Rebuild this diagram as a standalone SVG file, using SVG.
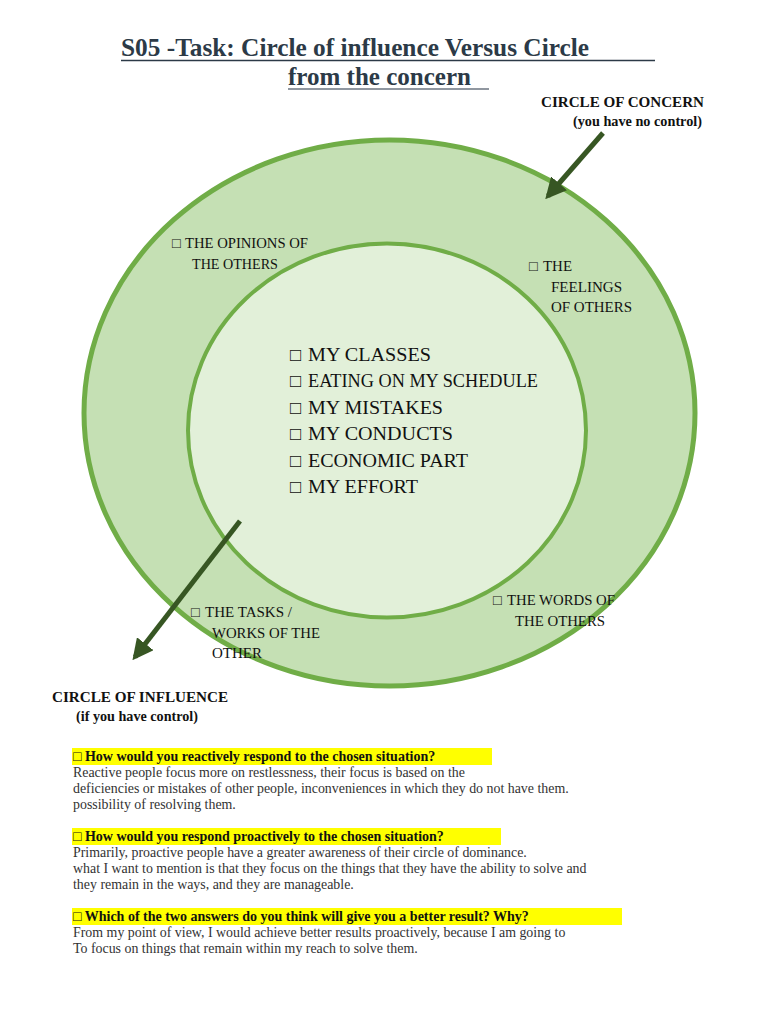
<svg xmlns="http://www.w3.org/2000/svg" width="768" height="1024" viewBox="0 0 768 1024">
<defs>
<style>
.t{font-family:"Liberation Serif","Times New Roman",serif;}
.title{font-size:25px;font-weight:bold;fill:#2c3a47;}
.lab{font-size:14.5px;fill:#111;}
.big{font-size:18.5px;fill:#111;}
.hd{font-size:14.5px;font-weight:bold;fill:#111;}
.q{font-size:14px;font-weight:bold;fill:#111;}
.b{font-size:13.9px;fill:#333;}
.hl{fill:#ffff00;}
.arr{stroke:#375623;stroke-width:5;fill:none;}
</style>
<marker id="ah" viewBox="0 0 10 10" refX="8" refY="5" markerWidth="4.2" markerHeight="4.2" orient="auto" markerUnits="strokeWidth">
<path d="M0,0 L10,5 L0,10 z" fill="#375623"/>
</marker>
</defs>
<rect width="768" height="1024" fill="#ffffff"/>
<g id="title" class="t">
<text class="title" x="121" y="56" textLength="468" lengthAdjust="spacingAndGlyphs">S05 -Task: Circle of influence Versus Circle</text>
<line x1="121" y1="60.5" x2="655" y2="60.5" stroke="#2c3a47" stroke-width="1.5"/>
<text class="title" x="288" y="85" textLength="183" lengthAdjust="spacingAndGlyphs">from the concern</text>
<line x1="288" y1="89" x2="489" y2="89" stroke="#6b7480" stroke-width="1.5"/>
</g>
<g id="outer-circle">
<ellipse cx="389.5" cy="413" rx="305.5" ry="273" fill="#c5e0b4" stroke="#70ad47" stroke-width="5"/>
</g>
<g id="inner-circle">
<ellipse cx="387" cy="430.5" rx="199" ry="187" fill="#e2f0d9" stroke="#70ad47" stroke-width="4"/>
</g>
<g id="connectors">
<line class="arr" x1="603" y1="133" x2="548" y2="196" marker-end="url(#ah)"/>
<line class="arr" x1="240" y1="521" x2="135" y2="657" marker-end="url(#ah)"/>
</g>
<g id="circle-of-concern" class="t">
<text class="hd" x="541" y="107" textLength="163" lengthAdjust="spacingAndGlyphs">CIRCLE OF CONCERN</text>
<text class="hd" x="573" y="126" textLength="129" lengthAdjust="spacingAndGlyphs">(you have no control)</text>
</g>
<g id="circle-of-influence" class="t">
<text class="hd" x="52" y="702" textLength="176" lengthAdjust="spacingAndGlyphs">CIRCLE OF INFLUENCE</text>
<text class="hd" x="76" y="721" textLength="122" lengthAdjust="spacingAndGlyphs">(if you have control)</text>
</g>
<g id="opinions" class="t lab">
<text x="172" y="248">□</text>
<text x="185" y="248" textLength="123" lengthAdjust="spacingAndGlyphs">THE OPINIONS OF</text>
<text x="192" y="269" textLength="86" lengthAdjust="spacingAndGlyphs">THE OTHERS</text>
</g>
<g id="feelings" class="t lab">
<text x="529" y="271">□</text>
<text x="543" y="271" textLength="29" lengthAdjust="spacingAndGlyphs">THE</text>
<text x="551" y="292" textLength="71" lengthAdjust="spacingAndGlyphs">FEELINGS</text>
<text x="551" y="312" textLength="81" lengthAdjust="spacingAndGlyphs">OF OTHERS</text>
</g>
<g id="tasks" class="t lab">
<text x="191" y="617">□</text>
<text x="205" y="617" textLength="87" lengthAdjust="spacingAndGlyphs">THE TASKS /</text>
<text x="212" y="638" textLength="108" lengthAdjust="spacingAndGlyphs">WORKS OF THE</text>
<text x="212" y="658" textLength="50" lengthAdjust="spacingAndGlyphs">OTHER</text>
</g>
<g id="words" class="t lab">
<text x="493" y="605">□</text>
<text x="507" y="605" textLength="108" lengthAdjust="spacingAndGlyphs">THE WORDS OF</text>
<text x="515" y="626" textLength="90" lengthAdjust="spacingAndGlyphs">THE OTHERS</text>
</g>
<g id="influence-list" class="t big">
<text x="290" y="361">□</text><text x="308" y="361" textLength="123" lengthAdjust="spacingAndGlyphs">MY CLASSES</text>
<text x="290" y="387">□</text><text x="308" y="387" textLength="230" lengthAdjust="spacingAndGlyphs">EATING ON MY SCHEDULE</text>
<text x="290" y="414">□</text><text x="308" y="414" textLength="135" lengthAdjust="spacingAndGlyphs">MY MISTAKES</text>
<text x="290" y="440">□</text><text x="308" y="440" textLength="145" lengthAdjust="spacingAndGlyphs">MY CONDUCTS</text>
<text x="290" y="467">□</text><text x="308" y="467" textLength="160" lengthAdjust="spacingAndGlyphs">ECONOMIC PART</text>
<text x="290" y="493">□</text><text x="308" y="493" textLength="110" lengthAdjust="spacingAndGlyphs">MY EFFORT</text>
</g>
<g id="q1" class="t">
<rect class="hl" x="72" y="748" width="420" height="17"/>
<text class="q" x="73" y="761">□ How would you reactively respond to the chosen situation?</text>
<text class="b" x="73" y="777">Reactive people focus more on restlessness, their focus is based on the</text>
<text class="b" x="73" y="793">deficiencies or mistakes of other people, inconveniences in which they do not have them.</text>
<text class="b" x="73" y="809">possibility of resolving them.</text>
</g>
<g id="q2" class="t">
<rect class="hl" x="72" y="828" width="429" height="17"/>
<text class="q" x="73" y="841">□ How would you respond proactively to the chosen situation?</text>
<text class="b" x="73" y="857">Primarily, proactive people have a greater awareness of their circle of dominance.</text>
<text class="b" x="73" y="873">what I want to mention is that they focus on the things that they have the ability to solve and</text>
<text class="b" x="73" y="889">they remain in the ways, and they are manageable.</text>
</g>
<g id="q3" class="t">
<rect class="hl" x="72" y="908" width="550" height="17"/>
<text class="q" x="73" y="921">□ Which of the two answers do you think will give you a better result? Why?</text>
<text class="b" x="73" y="937">From my point of view, I would achieve better results proactively, because I am going to</text>
<text class="b" x="73" y="953">To focus on things that remain within my reach to solve them.</text>
</g>
</svg>
